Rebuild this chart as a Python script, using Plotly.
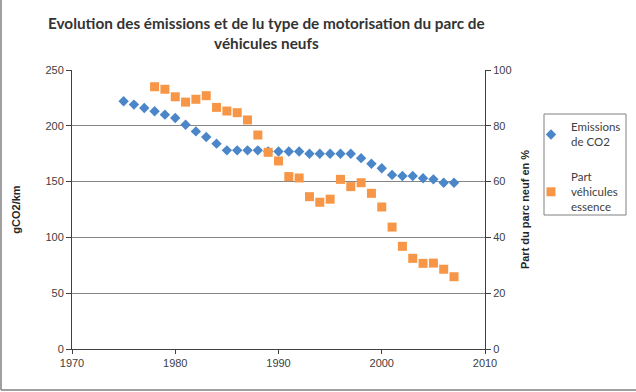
import plotly.graph_objects as go

years_co2 = list(range(1975, 2008))
co2 = [222, 219, 216, 213, 210, 207, 201, 195, 190, 184, 178, 178, 178, 178, 177,
       177, 177, 177, 175, 175, 175, 175, 175, 171, 166, 162, 156, 155, 155, 153,
       152, 149, 149]

years_ess = list(range(1978, 2008))
essence = [94.0, 93.1, 90.4, 88.5, 89.5, 90.8, 86.6, 85.3, 84.7, 82.1, 76.7, 70.5,
           67.4, 61.8, 61.3, 54.6, 52.6, 53.7, 60.8, 58.2, 59.6, 55.8, 50.9, 43.7,
           36.8, 32.5, 30.7, 30.8, 28.6, 25.9]

x_ticks = [1970, 1980, 1990, 2000, 2010]
left_ticks = [0, 50, 100, 150, 200, 250]
right_ticks = [0, 20, 40, 60, 80, 100]

title = "Evolution des émissions et de lu type de motorisation du parc de<br>véhicules neufs"

fig = go.Figure()
fig.add_trace(go.Scatter(
    x=years_co2, y=co2, mode="markers", name="Emissions<br>de CO2",
    legendgroup="a",
    marker=dict(symbol="diamond", size=8, color="#4A86C8"),
    yaxis="y"))
fig.add_trace(go.Scatter(
    x=years_ess, y=essence, mode="markers", name="Part<br>véhicules<br>essence",
    legendgroup="b",
    marker=dict(symbol="square", size=9, color="#F79646"),
    yaxis="y2"))

tickfont = dict(family="Liberation Sans, Arial", size=11, color="#404040")
PL, PR, PT, PB = 72, 485, 70, 349
W, H = PR - PL, PB - PT

fig.update_layout(
    width=636, height=392,
    margin=dict(l=PL, r=636 - PR, t=PT, b=392 - PB, autoexpand=False),
    paper_bgcolor="white", plot_bgcolor="white",
    xaxis=dict(range=[1970, 2010], tickvals=x_ticks, showgrid=False, zeroline=False,
               showline=True, linecolor="#404040", linewidth=1, automargin=False,
               ticks="outside", ticklen=4, tickcolor="#404040", tickfont=tickfont),
    yaxis=dict(range=[0, 250], tickvals=left_ticks, showgrid=True, gridcolor="#868686",
               gridwidth=1, zeroline=False, showline=True, linecolor="#404040",
               automargin=False,
               ticks="outside", ticklen=5, tickcolor="#404040", tickfont=tickfont,
               title=dict(text="<b>gCO2/km</b>", standoff=22,
                          font=dict(family="Liberation Sans, Arial", size=11, color="#262626"))),
    yaxis2=dict(range=[0, 100], tickvals=right_ticks, overlaying="y", side="right",
                showgrid=False, zeroline=False, showline=True, linecolor="#404040",
                automargin=False,
                ticks="outside", ticklen=5, tickcolor="#404040", tickfont=tickfont,
                title=dict(text="<b>Part du parc neuf en %</b>", standoff=13,
                           font=dict(family="Liberation Sans, Arial", size=11, color="#262626"))),
    legend=dict(xref="container", yref="container", x=531 / 636, y=1 - 113 / 392,
                xanchor="left", yanchor="top", itemwidth=30,
                borderwidth=0, bgcolor="rgba(0,0,0,0)",
                font=dict(family="Lato, Open Sans", size=11.5, color="#404040"),
                tracegroupgap=17),
    showlegend=True,
    annotations=[
        dict(text="<b>" + title + "</b>", xref="paper", yref="paper",
             x=(266 - PL) / W, y=(PB - 12) / H, xanchor="center", yanchor="top",
             showarrow=False, align="center",
             font=dict(family="Lato, Open Sans", size=15.3, color="#333333")),
    ],
    shapes=[
        dict(type="rect", xref="paper", yref="paper", x0=(544 - PL) / W, x1=(626 - PL) / W,
             y0=(PB - 215) / H, y1=(PB - 114) / H, line=dict(color="#808080", width=1),
             fillcolor="rgba(0,0,0,0)"),
        dict(type="line", xref="paper", yref="paper", x0=(1 - PL) / W, x1=(1 - PL) / W,
             y0=(PB - 390) / H, y1=PB / H, line=dict(color="#808080", width=1.5)),
        dict(type="line", xref="paper", yref="paper", x0=(1 - PL) / W, x1=(636 - PL) / W,
             y0=(PB - 390) / H, y1=(PB - 390) / H, line=dict(color="#808080", width=1.5)),
    ],
)

fig.write_html("out.html")
